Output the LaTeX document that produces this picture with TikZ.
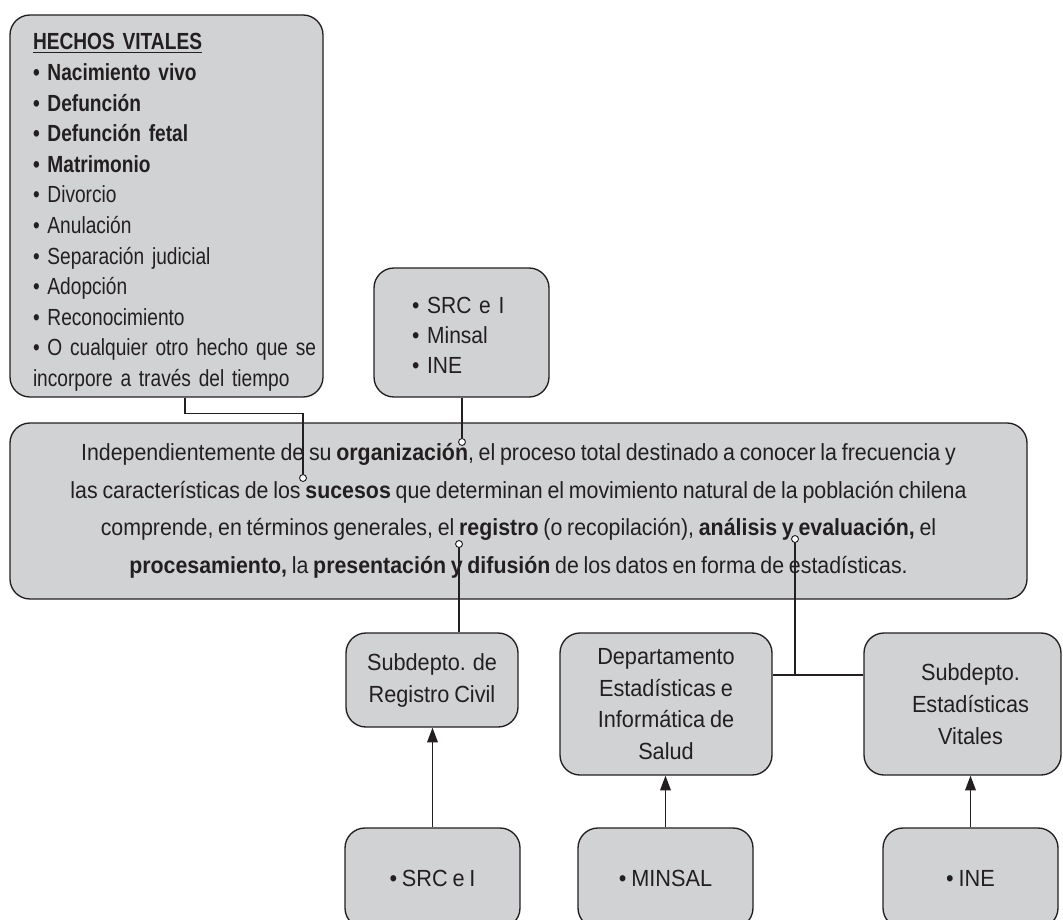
\documentclass[tikz,border=0pt]{standalone}
\usepackage{fontspec}
\setmainfont{Liberation Sans}[FakeStretch=0.915,WordSpace=0.8]
\newfontfamily\hvfont{Liberation Sans}[FakeStretch=0.82,WordSpace=0.6]
\newfontfamily\topfont{Liberation Sans}[FakeStretch=0.9,WordSpace=0.8]
\newfontfamily\boxfont{Liberation Sans}[FakeStretch=0.93,WordSpace=0.8]
\usetikzlibrary{arrows.meta}
\definecolor{boxgray}{HTML}{D1D2D4}
\definecolor{ink}{HTML}{231F20}
\begin{document}
\begin{tikzpicture}[x=0.75pt,y=-0.75pt,
  box/.style={draw=ink, fill=boxgray, rounded corners=15pt, line width=1pt, inner sep=0pt, text=ink, align=center},
  link/.style={draw=ink, line width=0.9pt},
  arr/.style={link, -{Triangle[length=11pt,width=8pt]}},
  dot/.style={circle, draw=ink, fill=white, line width=0.7pt, inner sep=0pt, minimum size=5.2pt}
]
\useasboundingbox (0,0) rectangle (1063,920);
\clip (0,0) rectangle (1063,920);

% top-left box
\node[box, align=left, minimum width=234.75pt, minimum height=286.5pt, text width=200.25pt,
      font=\hvfont\fontsize{17.5pt}{22.95pt}\selectfont] (HV) at (166.5,206)
{\rule{0pt}{22pt}\underline{\textbf{HECHOS VITALES}}\\
\textbf{• Nacimiento vivo}\\
\textbf{• Defunción}\\
\textbf{• Defunción fetal}\\
\textbf{• Matrimonio}\\
• Divorcio\\
• Anulación\\
• Separación judicial\\
• Adopción\\
• Reconocimiento\\
\mbox{• O cualquier otro hecho que se}\\
\mbox{incorpore a través del tiempo}};

% top small box
\node[box, align=left, minimum width=131.25pt, minimum height=96.75pt, text width=74.25pt,
      font=\topfont\fontsize{17.5pt}{22.5pt}\selectfont] (SRCt) at (461.5,332.5)
{\rule{0pt}{17pt}• SRC e I\\ • Minsal\\ • INE};

% main box
\node[box, minimum width=762.75pt, minimum height=132pt,
      font=\fontsize{17.5pt}{28.1pt}\selectfont] (M) at (518.5,511)
{Independientemente de su \textbf{organización}, el proceso total destinado a conocer la frecuencia y\\
las características de los \textbf{sucesos} que determinan el movimiento natural de la población chilena\\
comprende, en términos generales, el \textbf{registro} (o recopilación), \textbf{análisis y evaluación,} el\\
\textbf{procesamiento,} la \textbf{presentación y difusión} de los datos en forma de estadísticas.};

% middle row
\node[box, minimum width=129pt, minimum height=70.5pt,
      font=\boxfont\fontsize{17.5pt}{24pt}\selectfont] (Reg) at (432,680)
{Subdepto. de\\ Registro Civil};
\node[box, minimum width=159pt, minimum height=106.5pt,
      font=\boxfont\fontsize{17.5pt}{23.8pt}\selectfont] (Dep) at (666,704)
{Departamento\\ Estadísticas e\\ Informática de\\ Salud};
\node[box, minimum width=147.75pt, minimum height=106.5pt,
      font=\boxfont\fontsize{17.5pt}{23.8pt}\selectfont] (Vit) at (962.5,704)
{\hspace*{12pt}Subdepto.\\ \hspace*{12pt}Estadísticas\\ \hspace*{12pt}Vitales};

% bottom row
\node[box, minimum width=131.25pt, minimum height=75pt,
      font=\boxfont\fontsize{17.5pt}{24pt}\selectfont] (SRCb) at (432.5,878) {• SRC e I};
\node[box, minimum width=131.25pt, minimum height=75pt,
      font=\boxfont\fontsize{17.5pt}{24pt}\selectfont] (MIN) at (665.5,878) {• MINSAL};
\node[box, minimum width=131.25pt, minimum height=75pt,
      font=\boxfont\fontsize{17.5pt}{24pt}\selectfont] (INE) at (970.5,878) {• INE};

% connector points
\coordinate (d1) at (303,478);
\coordinate (d2) at (462,442);
\coordinate (d3) at (459,544);
\coordinate (d4) at (795,539);
\coordinate (j) at (795,675);

\draw[link] ([xshift=13.9pt]HV.south) -- ++(0,16) -| (d1);
\draw[link] (SRCt.south -| d2) -- (d2);
\draw[link] (d3) -- (d3 |- Reg.north);
\draw[link] (d4) -- (j);
\draw[link] (j -| Dep.east) -- (j -| Vit.west);

\node[dot] (c1) at (d1) {};
\node[dot] (c2) at (d2) {};
\node[dot] (c3) at (d3) {};
\node[dot] (c4) at (d4) {};

\draw[arr] (SRCb.north) -- (SRCb.north |- Reg.south);
\draw[arr] (MIN.north) -- (MIN.north |- Dep.south);
\draw[arr] (INE.north) -- (INE.north |- Vit.south);
\end{tikzpicture}
\end{document}
